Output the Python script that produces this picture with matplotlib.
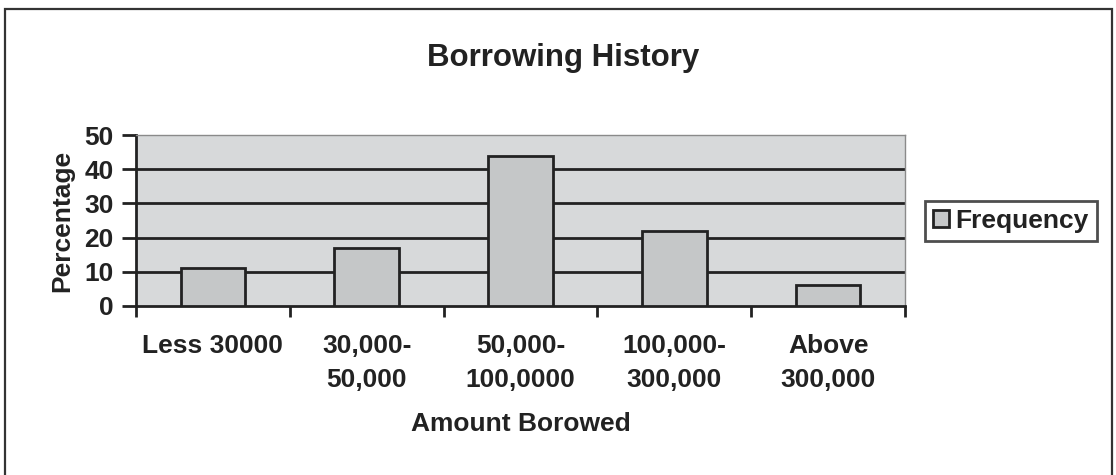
import matplotlib
matplotlib.use("Agg")
import matplotlib.pyplot as plt
from matplotlib.patches import Rectangle
import numpy as np

categories = ["Less 30000", "30,000-\n50,000", "50,000-\n100,0000", "100,000-\n300,000", "Above\n300,000"]
frequency = [11, 17, 44, 22, 6]
yticks = [0, 10, 20, 30, 40, 50]

plt.rcParams['font.family'] = ['Liberation Sans', 'DejaVu Sans']
plt.rcParams['font.weight'] = 'bold'

W, H = 1116, 475
fig = plt.figure(figsize=(W / 100, H / 100), dpi=100)
fig.patch.set_facecolor('white')

# outer frame
fig.patches.append(Rectangle((5 / W, -0.01), (1112 - 5) / W, 1 - 9 / H + 0.01,
                             transform=fig.transFigure, fill=False,
                             edgecolor='#333333', linewidth=1.6))

ax = fig.add_axes([136 / W, (H - 305.7) / H, (905 - 136) / W, (305.7 - 135.3) / H])
ax.set_facecolor('#d7d9da')

x = np.arange(len(categories))
ax.bar(x, frequency, width=0.42, color='#c5c7c8', edgecolor='#222222',
       linewidth=2, zorder=3, label='Frequency')

ax.set_xlim(-0.5, len(categories) - 0.5)
ax.set_ylim(0, 50)
ax.set_yticks(yticks)
ax.set_yticklabels([str(v) for v in yticks], fontsize=19, fontweight='bold', color='#222222')

for v in yticks[1:-1]:
    ax.axhline(v, color='#222222', linewidth=2, zorder=1)

ax.set_xticks(np.arange(len(categories) + 1) - 0.5)
ax.set_xticklabels([])
ax.tick_params(axis='x', direction='out', length=8, width=2, color='#222222')
ax.tick_params(axis='y', direction='out', length=10, width=2, color='#222222', pad=6)

for i, lab in enumerate(categories):
    ax.annotate(lab, xy=(i, 0), xycoords=('data', 'axes fraction'),
                xytext=(0, -20.5), textcoords='offset points', ha='center', va='top',
                fontsize=19, fontweight='bold', color='#222222', linespacing=1.5)

for s in ['left', 'bottom']:
    ax.spines[s].set_color('#222222')
    ax.spines[s].set_linewidth(2)
for s in ['top', 'right']:
    ax.spines[s].set_color('#8a8a8a')
    ax.spines[s].set_linewidth(1)

fig.text(521 / W, 1 - 424 / H, "Amount Borowed", ha='center', va='center',
         fontsize=19, fontweight='bold', color='#222222')
fig.text(62 / W, 1 - 221 / H, "Percentage", ha='center', va='center', rotation=90,
         fontsize=19, fontweight='bold', color='#222222')
fig.text(563 / W, 1 - 58 / H, "Borrowing History", ha='center', va='center',
         fontsize=22.5, fontweight='bold', color='#222222')

leg = fig.legend(loc='center left', bbox_to_anchor=(925 / W, 1 - 221 / H),
                 frameon=True, fancybox=False, fontsize=19,
                 handlelength=0.6, handleheight=0.6, handletextpad=0.25,
                 borderpad=0.3, borderaxespad=0)
leg.get_frame().set_edgecolor('#222222')
leg.get_frame().set_linewidth(2)
for t in leg.get_texts():
    t.set_fontweight('bold')
    t.set_color('#222222')

fig.savefig("out.png", dpi=100, facecolor='white')
